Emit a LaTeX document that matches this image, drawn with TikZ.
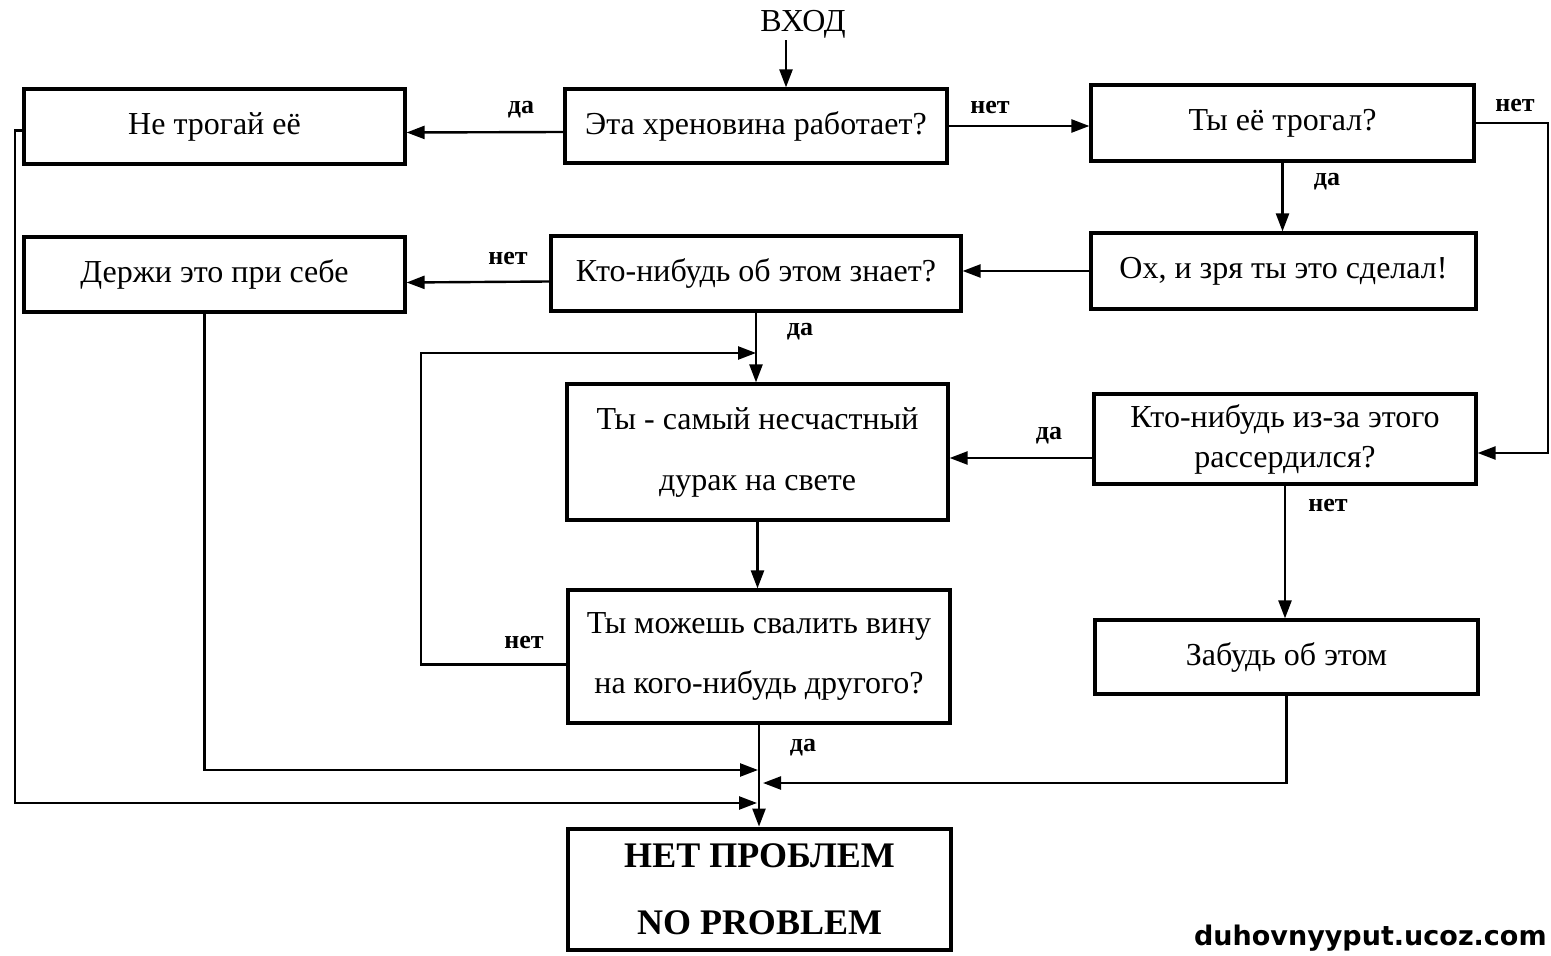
\documentclass[tikz,border=0pt]{standalone}
\usepackage{fontspec}
\setmainfont{Liberation Serif}
\newfontfamily\markfont{DejaVu Sans}
\usetikzlibrary{arrows.meta}
\begin{document}
\begin{tikzpicture}[x=0.5pt,y=-0.5pt,
  box/.style={draw, line width=1.6pt, inner sep=0pt, align=center,
              font=\fontsize{16}{20}\selectfont},
  lbl/.style={font=\fontsize{13}{15}\bfseries\selectfont, inner sep=0pt},
  arr/.style={line width=1.2pt, -{Triangle[length=9pt,width=6.5pt]}}]
\clip (0,0) rectangle (1551,956);
\fill[white] (0,0) rectangle (1551,956);

% entry
\node[font=\fontsize{16}{20}\selectfont, inner sep=1pt] (in) at (803,24) {ВХОД};

% boxes
\node[box, minimum width=190.5pt, minimum height=37.5pt] (A) at (214.5,126.5) {Не трогай её};
\node[box, minimum width=191pt,   minimum height=37pt]   (B) at (756,126) {Эта хреновина работает?};
\node[box, minimum width=191.5pt, minimum height=38pt]   (C) at (1282.5,123) {Ты её трогал?};
\node[box, minimum width=192.5pt, minimum height=38pt]   (D) at (1283.5,271) {Ох, и зря ты это сделал!};
\node[box, minimum width=190.5pt, minimum height=37.5pt] (E) at (214.5,274.5) {Держи это при себе};
\node[box, minimum width=205pt,   minimum height=37.5pt] (F) at (756,273.5) {Кто-нибудь об этом знает?};
\node[box, minimum width=190.5pt, minimum height=68pt, font=\fontsize{16}{30.5}\selectfont]
  (G) at (757.5,452) {Ты - самый несчастный\\дурак на свете};
\node[box, minimum width=191pt, minimum height=45pt, font=\fontsize{16}{20}\selectfont]
  (H) at (1285,439) {Кто-нибудь из-за этого\\рассердился?};
\node[box, minimum width=191pt, minimum height=66.5pt, font=\fontsize{16}{30}\selectfont]
  (I) at (759,656.5) {Ты можешь свалить вину\\на кого-нибудь другого?};
\node[box, minimum width=191.5pt, minimum height=37pt]   (J) at (1286.5,657) {Забудь об этом};
\node[box, line width=2.4pt, minimum width=191.5pt, minimum height=60.5pt,
  font=\fontsize{18}{33.5}\bfseries\selectfont]
  (K) at (759.5,889.5) {НЕТ ПРОБЛЕМ\\NO PROBLEM};

% helper points
\coordinate (rx) at (1548,0);
\coordinate (lp) at (421,353);
\coordinate (jE) at (758,770);
\coordinate (aL) at (15,803);
\coordinate (jA) at (757,803);
\coordinate (jJ) at (763,783);

% connectors
\draw[arr] ([xshift=-8.5pt]in.south) -- ([xshift=15pt]B.north);
\draw[arr] ([yshift=-3pt]B.west) -- ([yshift=-3pt]A.east);
\draw[arr] (B.east) -- (B.east -| C.west);
\draw[arr] (C.south) -- (C.south |- D.north);
\draw[arr] (C.east) -- (C.east -| rx) |- ([yshift=-7pt]H.east);
\draw[arr] (D.west) -- (D.west -| F.east);
\draw[arr] ([yshift=-4pt]F.west) -- ([yshift=-4pt]E.east);
\draw[arr] (F.south) -- (F.south |- G.north);
\draw[arr] ([yshift=-9.5pt]H.west) -- ([yshift=-3pt]G.east);
\draw[arr] (G.south) -- (G.south |- I.north);
\draw[arr] (H.south) -- (H.south |- J.north);
\draw[arr] ([yshift=-4pt]I.west) -| (lp) -- (lp -| F.south);
\draw[arr] (I.south) -- (I.south |- K.north);
\draw[arr] ([xshift=-5pt]E.south) |- (jE);
\draw[arr] ([yshift=-2pt]A.west) -| (aL) -- (jA);
\draw[arr] (J.south) |- (jJ);

% branch labels
\node[lbl] (l1) at (521,110) {да};
\node[lbl] (l2) at (990,108) {нет};
\node[lbl] (l3) at (1515,106) {нет};
\node[lbl] (l4) at (1327,182) {да};
\node[lbl] (l5) at (508,259) {нет};
\node[lbl] (l6) at (800,332) {да};
\node[lbl] (l7) at (1049,436) {да};
\node[lbl] (l8) at (1328,506) {нет};
\node[lbl] (l9) at (524,643) {нет};
\node[lbl] (l10) at (803,748) {да};

% site mark
\node[anchor=east, inner sep=0pt, font=\markfont\bfseries\fontsize{13.5}{15}\selectfont]
  (wm) at (1547,938) {duhovnyyput.ucoz.com};
\end{tikzpicture}
\end{document}
